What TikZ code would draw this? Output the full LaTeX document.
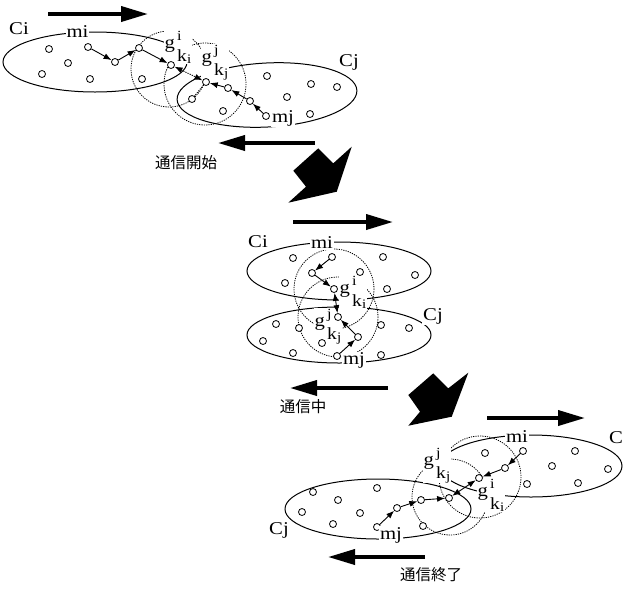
\documentclass[tikz,border=0pt]{standalone}
\usepackage{fontspec}
\setmainfont{Liberation Serif}[FakeStretch=1.15]
\newfontfamily\jp{Noto Sans CJK JP}
\usetikzlibrary{shapes.geometric,arrows.meta}
\newcommand\glab[2]{g\kern2pt\rlap{\raisebox{8pt}{\fontsize{14}{14}\selectfont #1}}\raisebox{-13pt}{\fontsize{17}{17}\selectfont k\kern0.3pt\raisebox{-2pt}{\fontsize{13}{13}\selectfont #2}}}
\tikzset{
  dot/.style={circle,draw,fill=white,inner sep=0pt,minimum size=7pt,line width=0.8pt},
  clus/.style={ellipse,draw,inner sep=0pt,line width=1pt},
  rng/.style={draw,line width=0.8pt,dash pattern=on 1.2pt off 1.1pt},
  lab/.style={fill=white,inner sep=1pt,anchor=base,font=\fontsize{18}{19}\selectfont},
  glabel/.style={fill=white,inner sep=0.5pt,anchor=base west,font=\fontsize{18}{19}\selectfont},
  ar/.style={-{Latex[length=8pt,width=6pt]},line width=0.9pt},
  dar/.style={{Latex[length=8pt,width=6pt]}-{Latex[length=8pt,width=6pt]},line width=0.9pt},
  big/.style={-{Triangle[length=27pt,width=15pt]},line width=3.8pt},
  jt/.style={font=\jp\fontsize{15.5}{16}\selectfont}
}
\begin{document}
\begin{tikzpicture}[x=1pt,y=-1pt]
\useasboundingbox[fill=white] (0,0) rectangle (623,590);

% ================= Panel 1 =================
\coordinate (r1s) at (48,14); \coordinate (r1e) at (148,14);
\draw[big] (r1s) -- (r1e);
\coordinate (l1s) at (315,143); \coordinate (l1e) at (218,143);
\draw[big] (l1s) -- (l1e);
\node[jt] (t1) at (186,163) {通信開始};

\draw[rng] (169,69) circle[radius=38];
\draw[rng] (205,84) circle[radius=41];
\node[clus,minimum width=184pt,minimum height=60pt] (Ci1) at (95,62) {};
\node[clus,minimum width=180pt,minimum height=64pt,rotate=3] (Cj1) at (267,95) {};
\node[glabel] (Gi1) at (164,48) {\glab{i}{i}};
\node[glabel] (Gj1) at (201,62) {\glab{j}{j}};

\node[dot] (p1o1) at (49,49) {};
\node[dot] (p1o2) at (68,63) {};
\node[dot] (p1o3) at (42,74) {};
\node[dot] (p1o4) at (90,79) {};
\node[dot] (p1a1) at (88,47) {};
\node[dot] (p1a2) at (115,62) {};
\node[dot] (p1a3) at (139,48) {};
\node[dot] (p1o5) at (142,79) {};
\node[dot] (p1gi) at (171,65) {};
\node[dot] (p1o6) at (267,76) {};
\node[dot] (p1o7) at (311,84) {};
\node[dot] (p1o8) at (337,87) {};
\node[dot] (p1o9) at (287,97) {};
\node[dot] (p1o10) at (310,114) {};
\node[dot] (p1o11) at (223,111) {};
\node[dot] (p1b2) at (228,88) {};
\node[dot] (p1b1) at (250,101) {};
\node[dot] (p1b0) at (266,116) {};
\node[dot] (p1gj) at (206,82) {};
\node[dot] (p1o12) at (192,99) {};

\draw[ar] (p1a1) -- (p1a2);
\draw[ar] (p1a2) -- (p1a3);
\draw[ar] (p1a3) -- (p1gi);
\draw[ar] (p1b0) -- (p1b1);
\draw[ar] (p1b1) -- (p1b2);
\draw[ar] (p1b2) -- (p1gj);
\draw[dar,dash pattern=on 1.2pt off 1.1pt] (p1gi) -- (p1gj);
\draw[line width=0.8pt,dash pattern=on 1.2pt off 1.1pt] (p1gj) -- (p1o12);

\node[lab] (Cil1) at (19,34) {Ci};
\node[lab] (mil1) at (77.5,37) {mi};
\node[lab] (Cjl1) at (349,66) {Cj};
\node[lab] (mjl1) at (283,122.5) {mj};

% fat arrow 1
\fill (318.3,148.3) -- (333.3,163.3) -- (351.7,146.7) -- (336.7,191.7) -- (288.3,202.7) -- (306,186.7) -- (293.3,170.7) -- cycle;

% ================= Panel 2 =================
\coordinate (r2s) at (293,222); \coordinate (r2e) at (393,222);
\draw[big] (r2s) -- (r2e);
\coordinate (l2s) at (388,388); \coordinate (l2e) at (290,388);
\draw[big] (l2s) -- (l2e);
\node[jt] (t2) at (303,407) {通信中};

\draw[rng] (334,289) circle[radius=40];
\draw[rng] (338,317) circle[radius=40];
\node[clus,minimum width=184pt,minimum height=58pt] (Ci2) at (339,271) {};
\node[clus,minimum width=184pt,minimum height=56pt] (Cj2) at (339,335) {};
\node[glabel] (Gi2) at (339,293.5) {\glab{i}{i}};
\node[glabel] (Gj2) at (314,326) {\glab{j}{j}};

\node[dot] (p2o1) at (293,258) {};
\node[dot] (p2c1) at (332,257) {};
\node[dot] (p2o2) at (383,257) {};
\node[dot] (p2c2) at (312,273) {};
\node[dot] (p2o3) at (360,272) {};
\node[dot] (p2o4) at (415,275) {};
\node[dot] (p2o5) at (285,283) {};
\node[dot] (p2gi) at (334,289) {};
\node[dot] (p2o6) at (387,289) {};
\node[dot] (p2gj) at (338,317) {};
\node[dot] (p2o7) at (276,324) {};
\node[dot] (p2o8) at (299,328) {};
\node[dot] (p2o9) at (381,325) {};
\node[dot] (p2o10) at (409,328) {};
\node[dot] (p2o11) at (263,341) {};
\node[dot] (p2o12) at (322,343) {};
\node[dot] (p2d1) at (358,337) {};
\node[dot] (p2o13) at (293,353) {};
\node[dot] (p2o14) at (381,355) {};
\node[dot] (p2d0) at (337,356) {};

\draw[ar] (p2c1) -- (p2c2);
\draw[ar] (p2c2) -- (p2gi);
\draw[dar] (p2gi) -- (p2gj);
\draw[ar] (p2d1) -- (p2gj);
\draw[ar] (p2d0) -- (p2d1);

\node[lab] (Cil2) at (258,247) {Ci};
\node[lab] (mil2) at (322,248.5) {mi};
\node[lab] (Cjl2) at (433,320) {Cj};
\node[lab] (mjl2) at (354,364.5) {mj};

% fat arrow 2
\fill (433.3,373.3) -- (448.3,388.3) -- (468.3,372.7) -- (451.7,416.7) -- (408.3,425.7) -- (420,411.7) -- (408.3,395) -- cycle;

% ================= Panel 3 =================
\coordinate (r3s) at (487,418); \coordinate (r3e) at (585,418);
\draw[big] (r3s) -- (r3e);
\coordinate (l3s) at (425,557); \coordinate (l3e) at (328,557);
\draw[big] (l3s) -- (l3e);
\node[jt] (t3) at (431,575) {通信終了};

\draw[rng] (480,477) circle[radius=41];
\draw[rng] (450,497) circle[radius=38];
\node[clus,minimum width=182pt,minimum height=62pt] (Ci3) at (531,466) {};
\node[clus,minimum width=186pt,minimum height=60pt] (Cj3) at (378,509) {};
\node[glabel] (Gj3) at (423,465) {\glab{j}{j}};
\node[glabel] (Gi3) at (477,496) {\glab{i}{i}};

\node[dot] (p3e0) at (523,451) {};
\node[dot] (p3o1) at (485,453) {};
\node[dot] (p3o2) at (575,451) {};
\node[dot] (p3o3) at (552,466) {};
\node[dot] (p3o4) at (608,469) {};
\node[dot] (p3e1) at (505,468) {};
\node[dot] (p3gi) at (479,478) {};
\node[dot] (p3o5) at (527,484) {};
\node[dot] (p3o6) at (578,483) {};
\node[dot] (p3o7) at (313,492) {};
\node[dot] (p3o8) at (377,488) {};
\node[dot] (p3o9) at (338,500) {};
\node[dot] (p3o10) at (302,512) {};
\node[dot] (p3o11) at (360,513) {};
\node[dot] (p3o12) at (333,524) {};
\node[dot] (p3f1) at (397,508) {};
\node[dot] (p3f2) at (421,500) {};
\node[dot] (p3gj) at (449,498) {};
\node[dot] (p3o13) at (423,526) {};
\node[dot] (p3f0) at (377,527) {};

\draw[ar] (p3e0) -- (p3e1);
\draw[ar] (p3e1) -- (p3gi);
\draw[dar] (p3gi) -- (p3gj);
\draw[ar] (p3f2) -- (p3gj);
\draw[ar] (p3f1) -- (p3f2);
\draw[ar] (p3f0) -- (p3f1);

\node[lab] (mil3) at (517,442) {mi};
\node[lab,anchor=base west] (Cil3) at (608,443) {Ci};
\node[lab,anchor=base west] (Cjl3) at (268,534) {Cj};
\node[lab] (mjl3) at (391,539) {mj};
\end{tikzpicture}
\end{document}
